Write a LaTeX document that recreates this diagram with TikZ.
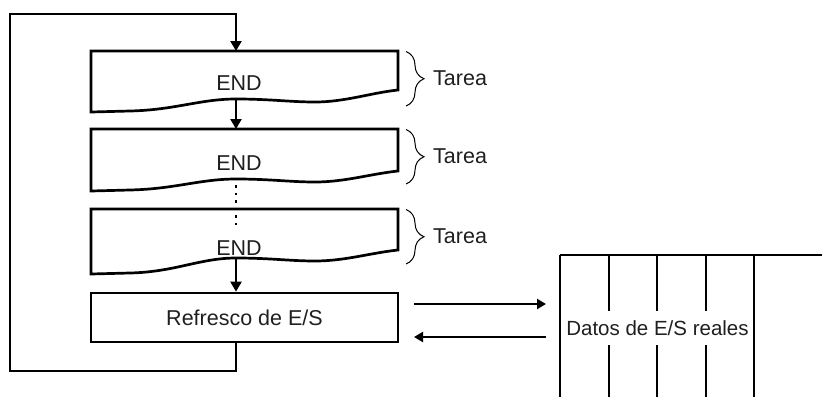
\documentclass[tikz,border=0pt]{standalone}
\usepackage{fontspec}
\setmainfont{Liberation Sans}
\usetikzlibrary{arrows.meta,decorations.pathreplacing}
\begin{document}
\begin{tikzpicture}[x=1pt,y=-1pt,
  box/.style={line width=2.7pt},
  loopline/.style={line width=2.8pt},
  arr/.style={-{Triangle[length=10pt,width=11pt]}, line width=2.3pt},
  harr/.style={-{Triangle[length=9pt,width=10pt]}, line width=2.5pt},
  dots/.style={line width=2.6pt, dash pattern=on 2.5pt off 5pt},
  lbl/.style={font=\fontsize{21.5}{24}\selectfont, text=black!88, inner sep=0pt},
  brc/.style={decorate, decoration={brace, amplitude=18pt}, line width=1pt},
  dline/.style={line width=2.9pt},
]
\useasboundingbox (0,0) rectangle (822,397);

% task boxes with wavy bottoms
\foreach \n/\T/\L/\M/\R/\E in {1/51/61/48/39/32, 2/129/62/50/42/34, 3/209/65/49/41/39}{
  \draw[box] (91,\T+\L) -- (91,\T) -- (398,\T) -- (398,\T+\R)
    .. controls (370,\T+\R+3) and (345,\T+\M+3) .. (315,\T+\M+3)
    .. controls (290,\T+\M+3) and (270,\T+\M) .. (236,\T+\M)
    .. controls (200,\T+\M) and (175,\T+\L-2) .. (130,\T+\L-1)
    -- cycle;
  \coordinate (top\n) at (236,\T);
  \coordinate (bot\n) at (236,\T+\M);
  \node[lbl] (end\n) at (239,\T+\E) {END};
  \coordinate (bt\n) at (406,\T+0.5);
  \coordinate (bb\n) at (406,\T+55);
  \draw[brc] (bt\n) -- (bb\n);
  \node[lbl, anchor=west] (tarea\n) at (433,\T+27) {Tarea};
}

% I/O refresh box
\node[draw, box, lbl, minimum width=307pt, minimum height=49pt] (ref) at (244.5,317.5) {Refresco de E/S};

% connectors between boxes
\draw[arr] (bot1) -- (top2);
\coordinate (dotend) at (236,228);
\draw[dots, shorten <=6pt] (bot2) -- (dotend);
\draw[arr] (bot3) -- (ref.north -| top1);

% loop back
\coordinate (c1) at (236,371);
\coordinate (c2) at (10,371);
\coordinate (c3) at (10,14);
\coordinate (c4) at (236,14);
\draw[loopline, arr] (ref.south -| top1) -- (c1) -- (c2) -- (c3) -- (c4) -- (top1);

% real I/O data
\coordinate (dA) at (560,397);
\coordinate (dB) at (560,255);
\coordinate (dC) at (822,255);
\draw[line width=1.8pt] (dA) -- (dB);
\draw[dline] (dB) -- (dC);
\foreach \x in {609,657,706,754}{
  \coordinate (vt\x) at (\x,255);
  \coordinate (vb\x) at (\x,397);
  \draw[dline] (vt\x) -- (vb\x);
}
\node[lbl, font=\fontsize{20.5}{23}\selectfont, fill=white, inner xsep=1pt, inner ysep=9pt] (datos) at (657.5,328) {Datos de E/S reales};

% exchange arrows
\coordinate (o1) at (414,304);
\coordinate (o2) at (546,304);
\coordinate (i1) at (546,337);
\coordinate (i2) at (414,337);
\draw[harr] (o1) -- (o2);
\draw[harr] (i1) -- (i2);
\end{tikzpicture}
\end{document}
